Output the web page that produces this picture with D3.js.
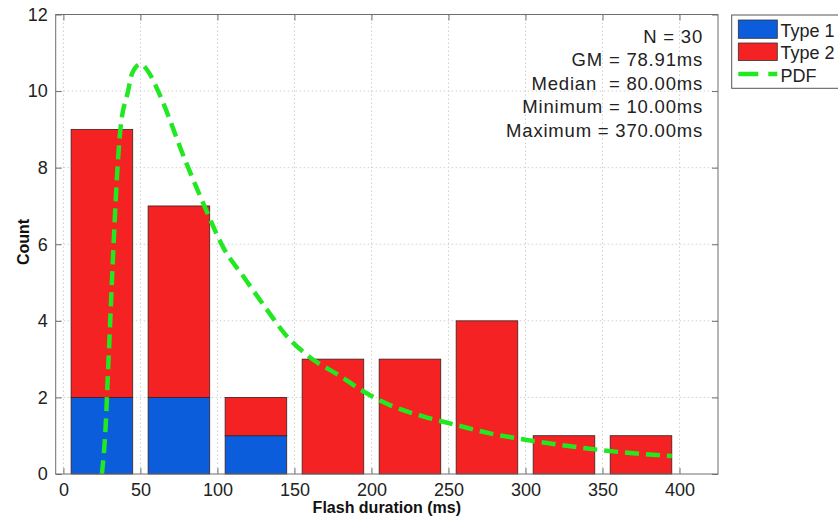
<!DOCTYPE html>
<html>
<head>
<meta charset="utf-8">
<script src="https://cdn.jsdelivr.net/npm/d3@7"></script>
<style>
  html, body { margin: 0; padding: 0; background: #fff; }
  svg { display: block; font-family: "Liberation Sans", Arial, Helvetica, sans-serif; }
</style>
</head>
<body>
<svg id="chart" width="838" height="516"></svg>
<script>
// ---- data ----
const binCenters = [25, 75, 125, 175, 225, 275, 325, 375];
const type1Counts = [2, 2, 1, 0, 0, 0, 0, 0];
const type2Counts = [7, 5, 1, 3, 3, 4, 1, 1];
const barWidth = 40;
const pdfX = [25, 27.5, 29, 37, 42, 44.5, 50, 56, 61.5, 79, 91, 104, 117, 132, 145, 160, 180, 193, 212, 234, 255, 277, 301, 348, 370, 395];
const pdfY = [0, 1.3, 2.7, 9.0, 10.0, 10.45, 10.7, 10.45, 10.0, 8.2, 7.05, 5.9, 5.15, 4.3, 3.6, 3.05, 2.55, 2.2, 1.8, 1.5, 1.28, 1.06, 0.89, 0.63, 0.54, 0.47];
const xTicks = [0, 50, 100, 150, 200, 250, 300, 350, 400];
const yTicks = [0, 2, 4, 6, 8, 10, 12];
const statsLines = ["N = 30", "GM = 78.91ms", "Median  = 80.00ms", "Minimum = 10.00ms", "Maximum = 370.00ms"];
const legendLabels = ["Type 1", "Type 2", "PDF"];
const colors = { type1: "#0b5ddc", type2: "#f42222", pdf: "#22e822" };

// ---- layout ----
const L = 55.7, R = 718, T = 14.5, B = 474;
const svg = d3.select("#chart");
const x = d3.scaleLinear().domain([-5, 425]).range([L, R]);
const y = d3.scaleLinear().domain([0, 12]).range([B, T]);

svg.append("defs").append("clipPath").attr("id", "plotclip")
  .append("rect").attr("x", L).attr("y", T).attr("width", R - L).attr("height", B - T);

// grid
const grid = svg.append("g").attr("stroke", "#cfcfcf").attr("stroke-width", 1).attr("stroke-dasharray", "1.5,2.5");
grid.selectAll("line.vx").data(xTicks).join("line")
  .attr("x1", d => x(d)).attr("x2", d => x(d)).attr("y1", T).attr("y2", B);
grid.selectAll("line.hy").data(yTicks.slice(1, -1)).join("line")
  .attr("x1", L).attr("x2", R).attr("y1", d => y(d)).attr("y2", d => y(d));

// bars
const bars = svg.append("g").attr("stroke", "#3a2020").attr("stroke-width", 0.8);
bars.selectAll("rect.t1").data(binCenters.map((c, i) => ({c, v: type1Counts[i]})).filter(d => d.v > 0)).join("rect")
  .attr("x", d => x(d.c - barWidth / 2)).attr("width", d => x(d.c + barWidth / 2) - x(d.c - barWidth / 2))
  .attr("y", d => y(d.v)).attr("height", d => y(0) - y(d.v)).attr("fill", colors.type1);
bars.selectAll("rect.t2").data(binCenters.map((c, i) => ({c, b: type1Counts[i], v: type2Counts[i]}))).join("rect")
  .attr("x", d => x(d.c - barWidth / 2)).attr("width", d => x(d.c + barWidth / 2) - x(d.c - barWidth / 2))
  .attr("y", d => y(d.b + d.v)).attr("height", d => y(d.b) - y(d.b + d.v)).attr("fill", colors.type2);

// pdf
const line = d3.line().x(d => x(d[0])).y(d => y(d[1])).curve(d3.curveMonotoneX);
svg.append("path").datum(pdfX.map((v, i) => [v, pdfY[i]]))
  .attr("clip-path", "url(#plotclip)")
  .attr("d", line).attr("fill", "none").attr("stroke", colors.pdf)
  .attr("stroke-width", 4.5).attr("stroke-dasharray", "14,7");

// axes
const axisColor = "#6e6e6e";
function styleAxis(g, showLabels) {
  g.select(".domain").remove();
  g.selectAll(".tick line").attr("stroke", axisColor);
  g.selectAll(".tick text").attr("fill", "#222").attr("font-size", "18px")
    .attr("font-family", "'Liberation Sans', Arial, sans-serif");
  if (!showLabels) g.selectAll(".tick text").remove();
}
svg.append("g").attr("transform", `translate(0,${B})`)
  .call(d3.axisBottom(x).tickValues(xTicks).tickSize(-6).tickPadding(9).tickFormat(d3.format("d")))
  .call(g => styleAxis(g, true));
svg.append("g").attr("transform", `translate(0,${T})`)
  .call(d3.axisTop(x).tickValues(xTicks).tickSize(-6))
  .call(g => styleAxis(g, false));
svg.append("g").attr("transform", `translate(${L},0)`)
  .call(d3.axisLeft(y).tickValues(yTicks).tickSize(-6).tickPadding(8).tickFormat(d3.format("d")))
  .call(g => styleAxis(g, true));
svg.append("g").attr("transform", `translate(${R},0)`)
  .call(d3.axisRight(y).tickValues(yTicks).tickSize(-6))
  .call(g => styleAxis(g, false));

// frame
svg.append("rect").attr("x", L).attr("y", T).attr("width", R - L).attr("height", B - T)
  .attr("fill", "none").attr("stroke", axisColor).attr("stroke-width", 1);

// axis titles
svg.append("text").attr("x", (L + R) / 2).attr("y", 513).attr("text-anchor", "middle")
  .attr("font-size", "16px").attr("font-weight", "bold").attr("fill", "#111").text("Flash duration (ms)");
svg.append("text").attr("transform", "translate(29,242) rotate(-90)").attr("text-anchor", "middle")
  .attr("font-size", "16px").attr("font-weight", "bold").attr("fill", "#111").text("Count");

// stats text
svg.append("g").selectAll("text").data(statsLines).join("text")
  .attr("x", 703).attr("y", (d, i) => 43 + i * 23.4)
  .attr("text-anchor", "end").attr("font-size", "18.5px").attr("letter-spacing", "0.8px")
  .attr("fill", "#222").style("white-space", "pre").attr("xml:space", "preserve").text(d => d);

// legend
const lg = svg.append("g");
lg.append("rect").attr("x", 731.7).attr("y", 15).attr("width", 140).attr("height", 73.3)
  .attr("fill", "#fff").attr("stroke", "#555").attr("stroke-width", 1);
lg.append("rect").attr("x", 738.3).attr("y", 20).attr("width", 39).attr("height", 18.3)
  .attr("fill", colors.type1).attr("stroke", "#333").attr("stroke-width", 0.8);
lg.append("rect").attr("x", 738.3).attr("y", 43).attr("width", 39).attr("height", 17.5)
  .attr("fill", colors.type2).attr("stroke", "#333").attr("stroke-width", 0.8);
lg.append("line").attr("x1", 738.3).attr("x2", 777.3).attr("y1", 74).attr("y2", 74)
  .attr("stroke", colors.pdf).attr("stroke-width", 4.5).attr("stroke-dasharray", "20,10");
lg.selectAll("text").data(legendLabels).join("text")
  .attr("x", 780.5).attr("y", (d, i) => 36.5 + i * 22.6)
  .attr("font-size", "18px").attr("fill", "#222").text(d => d);
</script>
</body>
</html>
